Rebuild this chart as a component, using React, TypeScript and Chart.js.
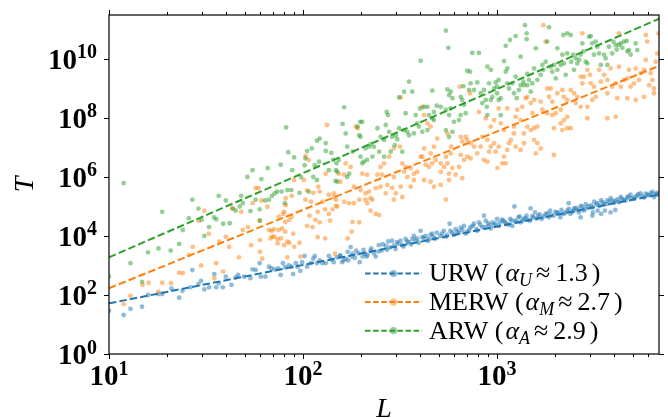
import React, { useEffect, useRef } from "react";
import { Chart, registerables } from "chart.js";

Chart.register(...registerables);

// ---------- axis ranges ----------
const xMin = 10;
const xMax = 6840;
const yMin = 1;
const yMax = 3.1e11;

// ---------- tick labels ----------
const xTickValues = [10, 100, 1000];
const xTickExps = ["1", "2", "3"];
const yTickValues = [1, 1e2, 1e4, 1e6, 1e8, 1e10];
const yTickExps = ["0", "2", "4", "6", "8", "10"];

// ---------- legend ----------
const seriesNames = ["URW", "MERW", "ARW"];
const seriesSubs = ["U", "M", "A"];
const seriesAlphas = ["1.3", "2.7", "2.9"];

// ---------- fitted power-law lines (end points) ----------
const fitL = [10, 6840];
const urwFit = [52, 2.55e5];
const merwFit = [170, 5.8e9];
const arwFit = [1.9e3, 2.3e11];

// ---------- URW scatter [L, T] ----------
const urwPoints: number[][] = [
  [10, 29], [11.9, 21], [12.9, 34], [14.8, 40], [15.9, 100], [17.9, 108], [18.8, 108], [21, 163], [23, 81], [23.9, 137],
  [26.9, 700], [26.3, 182], [28.9, 235], [29.8, 302], [31, 155], [32.8, 182], [34.9, 513], [35.7, 182], [36.8, 251], [38.6, 182],
  [40, 417], [42.8, 219], [46.3, 479], [45, 398], [49.6, 417], [53.6, 372], [54.9, 741], [57, 708], [59.8, 1200], [60.6, 417],
  [64, 417], [66.8, 912], [68.8, 794], [71.5, 741], [74.6, 794], [76.7, 479], [78.8, 1200], [81, 871], [84.6, 1000], [87.5, 912],
  [88.9, 513], [91.8, 1200], [93.6, 912], [96.8, 661], [99, 1300], [102, 2100], [105, 912], [110, 1200], [113, 1700], [115, 2100],
  [118, 1200], [122, 1500], [126, 1200], [131, 1200], [136, 2100], [140, 1600], [144, 1300], [150, 1900], [156, 2100], [159, 1300],
  [166, 1700], [171, 1500], [176, 4200], [180, 2500], [188, 3200], [193, 2600], [196, 1300], [203, 2000], [208, 2500], [213, 2000],
  [223, 3200], [232, 2600], [237, 2000], [246, 4900], [254, 3200], [267, 4600], [275, 6500], [271, 3400],
  [288, 6900], [294, 4700], [305, 6200], [318, 6900], [325, 4900], [338, 7900], [351, 6200], [366, 7900], [373, 1e4], [388, 8300],
  [404, 1.5e4], [412, 9100], [429, 1e4], [445, 7900], [463, 1.2e4], [472, 9100], [490, 1.3e4], [510, 1e4], [532, 1.5e4], [553, 1.1e4],
  [570, 2.6e4], [588, 1.3e4], [612, 1.7e4], [637, 1.3e4], [663, 1.6e4], [676, 2.2e4], [702, 1.4e4], [731, 2e4], [760, 2.6e4], [785, 1.7e4],
  [807, 2.9e4], [840, 2e4], [857, 4.9e4], [874, 3.3e4], [910, 2.3e4], [948, 2.9e4], [985, 2.6e4], [1000, 3.8e4], [1040, 2.9e4], [1080, 3.3e4],
  [1120, 2.6e4], [1170, 3.8e4], [1200, 2.2e4], [1240, 3.3e4], [1290, 4.3e4], [1320, 2.9e4], [1370, 3.8e4], [1420, 4.9e4], [1480, 3.3e4], [1540, 4.3e4],
  [1570, 6.3e4], [1630, 4.9e4], [1700, 3.8e4], [1780, 5.6e4], [1850, 4.3e4], [1880, 7.2e4], [1960, 4.9e4], [2040, 6.3e4], [2120, 4.3e4], [2200, 5.6e4],
  [2300, 7.2e4], [2390, 5.6e4], [2490, 7.2e4], [2700, 4.3e4], [2640, 6.3e4], [2800, 7.2e4],
  [1230, 1e5], [1490, 8.7e4], [2340, 1.3e5], [2494, 8.7e4], [2700, 1.05e5], [2870, 1.2e5], [3050, 1.1e5], [3170, 1.45e5], [3300, 1.3e5], [3440, 1.65e5],
  [3560, 1.2e5], [3700, 1.6e5], [3850, 1.9e5], [4000, 1.35e5], [4170, 1.75e5], [4340, 2.1e5], [4510, 1.65e5], [4690, 2e5], [4880, 2.5e5], [5080, 1.8e5],
  [5290, 2.3e5], [5500, 2.8e5], [5730, 2e5], [5960, 2.5e5], [6200, 2.9e5], [6450, 2.1e5], [6700, 2.9e5], [6800, 2.5e5],
  [3100, 4.9e4], [3120, 6.3e4], [3300, 7.2e4], [3440, 5.6e4], [3600, 7.2e4], [3850, 6.3e4], [4070, 7.6e4],
  [155, 2200], [162, 1500], [170, 2900], [178, 2000], [185, 1800], [205, 3400], [215, 2300], [225, 3800], [245, 3000], [258, 5300],
  [280, 4100], [300, 3600], [310, 5500], [330, 4400], [345, 6600], [360, 5200], [380, 7100], [395, 5900], [420, 8600], [440, 6800],
  [455, 1.1e4], [480, 8000], [520, 1.2e4], [545, 9400], [575, 1.5e4], [600, 1.1e4], [625, 1.4e4], [650, 1.9e4], [690, 1.2e4], [720, 1.6e4],
  [750, 2.2e4], [790, 1.5e4], [820, 2.4e4], [870, 2e4], [900, 2.7e4], [930, 1.8e4], [960, 2.4e4], [1020, 2.2e4], [1060, 3.6e4], [1100, 2.9e4],
  [1150, 2.4e4], [1190, 3.3e4], [1260, 3e4], [1310, 4.6e4], [1350, 3.2e4], [1400, 4e4], [1450, 3.5e4], [1520, 4.7e4], [1600, 3.9e4], [1660, 5.4e4],
  [1740, 4.6e4], [1820, 6e4], [1900, 5.2e4], [2000, 6.6e4], [2080, 5.8e4], [2150, 7.6e4], [2250, 6.1e4], [2350, 8.3e4], [2450, 6.6e4], [2560, 9e4],
  [2620, 7.8e4], [2750, 9.6e4], [2850, 8.4e4], [2950, 1e5], [3100, 9.3e4], [3250, 1.15e5], [3380, 1.05e5], [3500, 1.4e5], [3650, 1.2e5], [3800, 1.45e5],
  [3950, 1.6e5], [4100, 1.5e5], [4250, 1.4e5], [4400, 1.85e5], [4600, 1.6e5], [4750, 2.2e5], [4950, 1.9e5], [5150, 2.1e5], [5350, 2.6e5], [5600, 2.2e5],
  [5850, 2.7e5], [6100, 2.4e5], [6350, 3.1e5], [6600, 2.6e5],
];

// ---------- MERW scatter [L, T] ----------
const merwPoints: number[][] = [
  [133, 5.8e7], [103, 5.1e6], [107, 3.8e6], [101, 7.9e5], [105, 3.5e5], [103, 1.7e5], [113, 2.9e5], [110, 1.45e5], [120, 4.7e5], [122, 3.2e5],
  [131, 1.3e6], [136, 2.5e5], [144, 2.8e5], [148, 1.05e5], [150, 1e5], [142, 8e4], [136, 5.6e4], [130, 8e4], [126, 1.45e5], [119, 6.6e4],
  [116, 3.5e4], [122, 2.9e4], [112, 2e4], [105, 2.2e4], [119, 9.1e3], [90, 7.9e5], [87.5, 2.3e5], [81.5, 1.9e5], [81.5, 1.1e5], [80, 6.6e4],
  [79, 5.6e4], [75, 4.5e4], [87.5, 4.5e4], [85, 3.5e4], [81, 3e4], [78, 1.8e4], [75, 1.6e4], [71, 1.7e4], [67, 1.6e4], [69.5, 9.5e3],
  [74, 7.8e3], [85, 5.9e3], [80, 4.9e3], [90, 4.3e3], [57, 4.2e5], [59, 4.2e5], [61, 1.6e5], [65.5, 9.8e4], [55, 1.3e5], [48, 6.6e4],
  [43, 8.7e4], [52, 2e4], [49, 1.6e4], [60, 7.3e3], [54, 4.9e3], [40, 9.5e3], [37, 6.4e3], [31, 7.2e4], [29, 3.3e4], [27, 4.3e3],
  [41.6, 4.3e3], [32.7, 1.2e4], [25.8, 2.3e3], [60, 2.9e3], [61.7, 1.7e3], [46.8, 1.9e3], [35.7, 1.2e3], [29.8, 1e3], [38.8, 620], [34.9, 370],
  [23, 570], [24, 550], [18.8, 260], [20.9, 250], [16, 260], [14.9, 220], [12.9, 95], [11.9, 49], [18, 130], [68, 8.3e3],
  [71, 9.5e3], [74, 5.6e3], [77, 8.3e3], [69, 1.5e4], [83, 6.4e3], [96, 5.9e3], [83, 1.9e3], [97, 2e3], [146, 2.5e3], [170, 8.3e3],
  [178, 1.4e4], [60, 3.3e4], [81, 1.4e4], [89, 1.2e4], [108, 4.9e4], [130, 8.3e3], [138, 3.3e4],
  [145, 2.1e5], [153, 1.3e6], [163, 1.2e6], [166, 2.9e6], [176, 2.2e6], [187, 5.1e7], [191, 4.5e7], [183, 4.7e5], [198, 3.6e5], [210, 2.8e5],
  [214, 1.2e6], [202, 1.3e6], [219, 3.2e5], [210, 1.7e5], [223, 1.9e5], [228, 1.7e5], [214, 1.3e5], [195, 1.7e5], [183, 1.3e5], [173, 1.3e5],
  [163, 1.45e5], [156, 6.9e5], [148, 1.7e5], [242, 1.2e6], [251, 2.2e6], [262, 2.9e6], [278, 4.9e6], [294, 9.3e6], [316, 1.07e7], [319, 5e8],
  [288, 4.2e5], [301, 2.8e5], [294, 1.7e5], [267, 2.8e5], [251, 4.7e5], [237, 4.2e5], [325, 2.9e6], [332, 1.5e6], [338, 2.2e6], [345, 1e6],
  [359, 2e6], [373, 1.3e6], [325, 2.1e5], [359, 4.7e5], [319, 4.7e5], [294, 1e6], [272, 5.4e5], [256, 1.2e6], [545, 1.7e5], [373, 7.9e5],
  [388, 1.5e6], [404, 4.9e6], [412, 4.9e6], [421, 9.3e6], [429, 2.6e6], [446, 2.2e6], [464, 2.9e6], [483, 3.8e6], [412, 2.4e8], [421, 1.26e8],
  [438, 6.6e7], [455, 5.1e7], [492, 2e7], [421, 7.9e5], [455, 6.9e5], [473, 4.7e5], [513, 1.5e6], [513, 2.9e6], [533, 2.2e6], [555, 2.9e6],
  [566, 1.3e6], [589, 2e6], [513, 5.4e5], [545, 4.9e6], [473, 1.07e7], [455, 6.3e6], [577, 6.3e6], [644, 1.15e9], [726, 6.9e8], [650, 2.3e7],
  [662, 1.6e7], [690, 2.3e7], [703, 1.8e7], [731, 1.4e7], [761, 1.07e7], [650, 5.6e6], [676, 3.8e6], [703, 4.9e6], [731, 4.3e6], [791, 6.3e6],
  [824, 1.07e7], [566, 7.9e5], [637, 2.2e6], [612, 1.2e6], [662, 9.1e5], [555, 3e7], [581, 1.07e7], [857, 3.8e6], [892, 3.3e6], [910, 7.2e6],
  [929, 1.07e7], [966, 1.4e7], [1020, 1.07e7], [985, 7.2e6], [1005, 2e6], [1065, 2.9e6], [1109, 2.9e6], [1087, 4.9e6], [1130, 8.3e6], [1153, 1.4e7],
  [1178, 1.8e7], [1224, 3e7], [1224, 5.1e7], [1248, 1.1e8], [1130, 2.1e8], [1020, 2.1e8], [807, 1.6e8], [875, 9.8e7], [929, 5.1e7], [966, 8.5e7],
  [1045, 6.6e7], [1087, 3.9e7], [892, 1.8e7], [840, 2.3e7], [1271, 1.9e8], [1324, 8.5e7], [1349, 2.4e8], [1406, 4.7e8], [1432, 5.2e8], [1493, 3.2e8],
  [1521, 1.45e8], [1552, 4.1e8], [1432, 5.1e7], [1377, 3e7], [1493, 3.9e7], [1552, 4.5e7], [1615, 5.1e7], [1552, 1.8e7], [1615, 1.4e7], [1680, 9.3e6],
  [1585, 6.3e6], [1377, 1.4e7], [1324, 8.3e6], [1248, 1.07e7], [1734, 1.4e11], [1782, 3.9e10], [1816, 1e9], [1892, 1e9], [1853, 5.2e8], [1928, 3.6e8],
  [1680, 3.6e8], [1714, 1.9e8], [1816, 1.45e8], [1928, 1.26e8], [2009, 1.45e8], [2130, 1.9e8], [1967, 4.5e7], [2130, 6.6e7], [2213, 8.5e7], [2301, 1.1e8],
  [2301, 4.1e8], [2213, 5.2e8], [2047, 6.9e8], [2172, 8.9e8], [1967, 5.6e6], [2172, 3.9e7], [2399, 8.9e8], [2494, 6.9e8], [2594, 5.2e8], [2754, 1.5e9],
  [2700, 2.5e9], [2805, 2.5e9], [2924, 4.3e9], [3015, 2.9e9], [3041, 1.5e9], [3162, 1.15e9], [2545, 3.2e8], [2700, 2.4e8], [2924, 2.4e8], [3097, 4.1e8],
  [3228, 5.2e8], [2754, 7.4e10], [2924, 9.8e7], [2399, 4.5e7], [2301, 4.5e7], [3357, 4.3e9], [3427, 1.7e9], [3565, 2.9e9], [3707, 1.95e9], [3855, 4.8e9],
  [3927, 1.15e9], [4093, 1.5e9], [4256, 5.5e9], [4345, 1.15e9], [4519, 1.95e9], [4699, 2.2e9], [4786, 4.3e9], [4887, 1.15e9], [5082, 1.5e9], [5188, 4.8e9],
  [5395, 1.95e9], [5508, 3.3e9], [5728, 4.3e9], [5848, 9.3e9], [6083, 1.3e9], [6200, 3.3e9], [6324, 1.95e9], [6442, 1e9], [6577, 8.1e9], [6700, 1.55e10],
  [6800, 7.4e10], [5943, 3.9e10], [5848, 6.5e10], [4256, 7.4e10], [3707, 6.9e8], [4169, 4.7e8], [4699, 4.7e8], [5188, 4.1e8], [5728, 5.2e8], [6442, 6.9e8],
  [4093, 1.1e8], [3707, 9.8e7], [180, 3e4], [195, 2.9e4], [237, 5.6e4], [247, 5.1e4], [223, 7.2e4],
];

// ---------- ARW scatter [L, T] ----------
const arwPoints: number[][] = [
  [11.9, 6.2e5], [18.8, 6.6e4], [18, 3.8e3], [20.8, 3.2e3], [23, 5.4e3], [24, 1.6e4], [25.8, 4e4], [26.9, 1.7e5], [28.9, 8.5e4], [30, 3.5e4],
  [31, 1e4], [32.8, 2e4], [34.8, 4.3e4], [35.7, 3.7e4], [36.8, 2.3e5], [38.8, 2.6e4], [40, 1.6e5], [41.9, 2.7e4], [43.6, 8.5e4], [45, 7.2e4],
  [47.2, 1e5], [48, 2.3e5], [49, 1.3e5], [51.7, 1e6], [53.6, 7e4], [54.9, 1.7e6], [57, 1.7e5], [59.8, 8e4], [59.8, 3.3e4], [61, 8.5e5],
  [63.8, 1.6e5], [65.8, 2e6], [66.8, 1.7e5], [69.2, 2.3e5], [71.5, 2.8e5], [73.6, 3.2e5], [76.7, 2.6e6], [77.6, 3.2e5], [80.6, 1.3e5], [81.8, 4.8e7],
  [83, 3.6e5], [84, 6.9e6], [87, 3.6e5], [88, 1.7e6], [90, 4.6e6], [96, 2.9e5], [97.6, 1e6], [102, 2.5e6], [103, 4.3e6], [105, 7.6e6],
  [107, 3.2e5], [111, 9.3e6], [113, 1e6], [115, 2.5e6], [118, 7.9e5], [118, 1.7e7], [122, 2e7], [121, 3.3e6], [131, 1.4e7], [131, 7.6e6],
  [136, 1.7e6], [140, 6.6e6], [143, 3.8e6], [147, 7.4e5], [149, 2.9e6], [150, 1.5e6], [10, 4.2e2], [12.9, 1.2e3], [14.8, 2.8e2], [15.9, 2.8e3],
  [148, 1.7e6], [150, 6.9e5], [163, 2.3e8], [160, 6.3e7], [166, 3e7], [153, 3.8e6], [169, 1.07e7], [180, 7.2e6], [173, 1.3e6], [169, 1e6],
  [191, 5.1e7], [197, 7.4e7], [202, 7.4e7], [195, 2.6e7], [198, 2.3e7], [210, 9.3e6], [219, 1.07e7], [223, 1.3e7], [198, 4.9e6], [206, 3.3e6],
  [214, 3.8e6], [202, 2.9e6], [228, 4.9e6], [242, 4.5e7], [251, 2.3e7], [267, 5.8e7], [270, 1.6e8], [274, 1.26e8], [262, 1.8e7], [278, 3.4e7],
  [288, 2.3e7], [297, 1.2e7], [306, 1.9e7], [313, 4.5e7], [313, 5e8], [332, 7.8e8], [338, 1.45e8], [352, 1.7e9], [366, 7.8e8], [325, 7.2e6],
  [262, 4.9e6], [283, 7.2e6], [247, 7.2e6], [232, 1.07e7], [301, 2.6e7], [332, 3.9e7], [345, 3.4e7], [352, 2.6e7], [373, 3e7], [388, 6.6e7],
  [381, 1.26e8], [401, 2.1e8], [421, 2.4e8], [438, 2.4e8], [446, 1.26e8], [464, 8.5e8], [412, 3.4e7], [438, 3.9e7], [396, 5.1e7], [473, 1.6e8],
  [473, 8.5e7], [464, 9.8e7], [404, 8.7e9], [545, 9.1e10], [561, 2.4e10], [489, 2.6e8], [513, 2.4e8], [545, 1.9e8], [566, 1.26e8], [577, 2.1e8],
  [555, 9.3e8], [566, 6e8], [589, 4.7e8], [577, 7.8e8], [566, 2.3e7], [589, 3.4e7], [545, 3.9e7], [650, 5.2e8], [670, 1.2e9], [662, 4.1e8],
  [676, 2.8e8], [650, 1.26e8], [690, 1.45e8], [637, 8.5e7], [600, 7.4e7], [703, 4e9], [726, 3.7e9], [746, 1.6e10], [807, 1.6e10], [718, 8.9e8],
  [791, 1.6e9], [731, 1.5e9], [761, 8.9e8], [824, 6.9e8], [857, 8.9e8], [875, 4.1e8], [910, 1.5e9], [892, 5.5e9], [929, 4.3e9], [985, 1.6e9],
  [966, 1e9], [1000, 6.9e8], [1020, 4.1e8], [1045, 4.7e8], [840, 3.2e8], [885, 2.4e8], [929, 4.1e8], [946, 5.2e8], [892, 1.26e8], [1000, 1.15e9],
  [1020, 1.95e9], [1087, 8.5e9], [1109, 3.7e9], [1130, 4.8e9], [1045, 1.26e8], [1109, 2.8e10], [1167, 4.4e10], [1248, 6e10], [1130, 1.5e9], [1153, 1e9],
  [1199, 1.5e9], [1224, 6.9e8], [1264, 4.7e8], [1248, 2.5e9], [1324, 1.2e10], [1324, 1.3e9], [1297, 8.9e8], [1367, 1.7e9], [1394, 1.4e11], [1422, 7.4e10],
  [1422, 4.7e10], [1377, 1.3e9], [1432, 1.3e9], [1462, 1.95e9], [1493, 7.8e8], [1552, 4.8e9], [1521, 1.5e9], [1432, 3.1e9], [1585, 2.3e10], [1615, 1.95e9],
  [1680, 2.9e9], [1714, 6.3e9], [1734, 4.3e9], [1782, 8.1e9], [1816, 3.9e10], [1853, 1.2e11], [1892, 5.5e9], [1928, 3.7e9], [1967, 6.3e9], [2009, 2.2e9],
  [2047, 4.3e9], [2047, 2.3e10], [2130, 6.3e9], [2172, 1.4e10], [2213, 7.1e9], [2260, 2.9e9], [2301, 7.4e10], [2301, 1.55e10], [2198, 6.5e10], [2399, 6.5e10],
  [2415, 8.1e9], [2473, 1.4e10], [2494, 4.3e9], [2545, 1.05e10], [2594, 7.1e9], [2647, 9.3e9], [2700, 1.4e10], [2754, 3.4e10], [2786, 1.8e10], [2866, 8.1e9],
  [2924, 7.1e9], [2980, 5.7e10], [3041, 6e10], [3097, 3.4e10], [3228, 3.9e10], [3162, 1.4e10], [3289, 2.6e10], [3357, 1.55e10], [3427, 6.3e9], [3565, 1.4e10],
  [3632, 1.05e10], [3707, 6.3e9], [3776, 2.6e10], [3927, 1.55e10], [3981, 3.9e10], [4093, 3e10], [4140, 2.1e10], [4256, 3e10], [4345, 3.4e10], [4426, 2.4e10],
  [4519, 3.9e10], [4667, 4.1e10], [4699, 1.8e10], [4786, 2e10], [4887, 1.4e10], [5188, 3.4e10], [5284, 2e10],
];

const BLUE = "31,119,180";
const ORANGE = "255,127,14";
const GREEN = "44,160,44";
const FONT = '"Liberation Serif", "Times New Roman", serif';

function toXY(arr: number[][]) {
  return arr.map((p) => ({ x: p[0], y: p[1] }));
}

const decorPlugin = {
  id: "decor",
  afterDraw(chart: any) {
    const { ctx, chartArea: a, scales } = chart;
    const xs = scales.x;
    const ys = scales.y;
    ctx.save();
    ctx.strokeStyle = "#000";
    ctx.fillStyle = "#000";

    // spines
    ctx.lineWidth = 1.2;
    ctx.strokeRect(a.left, a.top, a.right - a.left, a.bottom - a.top);

    // ticks
    ctx.lineWidth = 1;
    ctx.beginPath();
    const majorLen = 5;
    const minorLen = 3;
    for (let d = 10; d <= xMax; d *= 10) {
      for (let m = 1; m <= 9; m++) {
        const v = d * m;
        if (v < xMin || v > xMax) continue;
        const px = Math.round(xs.getPixelForValue(v)) + 0.5;
        const len = m === 1 ? majorLen : minorLen;
        ctx.moveTo(px, a.bottom);
        ctx.lineTo(px, a.bottom + len);
        ctx.moveTo(px, a.top);
        ctx.lineTo(px, a.top - len);
      }
    }
    yTickValues.forEach((v) => {
      const py = Math.round(ys.getPixelForValue(v)) + 0.5;
      ctx.moveTo(a.left, py);
      ctx.lineTo(a.left - majorLen, py);
      ctx.moveTo(a.right, py);
      ctx.lineTo(a.right + majorLen, py);
    });
    ctx.stroke();

    // tick labels with superscripts
    const mainFont = `bold 29px ${FONT}`;
    const supFont = `bold 20px ${FONT}`;
    ctx.textBaseline = "alphabetic";
    ctx.textAlign = "left";
    const drawPow = (exp: string, left: number, base: number) => {
      ctx.font = mainFont;
      const w1 = ctx.measureText("10").width;
      ctx.fillText("10", left, base);
      ctx.font = supFont;
      ctx.fillText(exp, left + w1, base - 10.5);
    };
    const powWidth = (exp: string) => {
      ctx.font = mainFont;
      const w1 = ctx.measureText("10").width;
      ctx.font = supFont;
      return w1 + ctx.measureText(exp).width;
    };
    yTickValues.forEach((v, i) => {
      const py = ys.getPixelForValue(v);
      const w = powWidth(yTickExps[i]);
      drawPow(yTickExps[i], a.left - 12 - w, py + 10);
    });
    xTickValues.forEach((v, i) => {
      const px = xs.getPixelForValue(v);
      const w = powWidth(xTickExps[i]);
      drawPow(xTickExps[i], px - w / 2, a.bottom + 31);
    });

    // axis titles
    ctx.font = `italic 28px ${FONT}`;
    ctx.textAlign = "center";
    ctx.fillText("L", (a.left + a.right) / 2, 417);
    ctx.save();
    ctx.translate(33, (a.top + a.bottom) / 2);
    ctx.rotate(-Math.PI / 2);
    ctx.fillText("T", 0, 0);
    ctx.restore();

    // legend
    const colors = [BLUE, ORANGE, GREEN];
    const fs = 26;
    const subFs = 18;
    for (let i = 0; i < 3; i++) {
      const hy = 273.5 + i * 28.6;
      const base = hy + 7.8;
      const col = colors[i];
      ctx.save();
      ctx.strokeStyle = `rgb(${col})`;
      ctx.lineWidth = 2;
      ctx.setLineDash([5.5, 2.6]);
      ctx.beginPath();
      ctx.moveTo(365, hy);
      ctx.lineTo(422, hy);
      ctx.stroke();
      ctx.setLineDash([]);
      ctx.fillStyle = `rgba(${col},0.5)`;
      ctx.beginPath();
      ctx.arc(393.5, hy, 3.6, 0, Math.PI * 2);
      ctx.fill();
      ctx.restore();

      let x = 429;
      ctx.textAlign = "left";
      ctx.font = `${fs}px ${FONT}`;
      const t1 = seriesNames[i] + " (";
      ctx.fillText(t1, x, base);
      x += ctx.measureText(t1).width + 2;
      ctx.font = `italic ${fs}px ${FONT}`;
      ctx.fillText("α", x, base);
      x += ctx.measureText("α").width;
      ctx.font = `italic ${subFs}px ${FONT}`;
      ctx.fillText(seriesSubs[i], x, base + 5);
      x += ctx.measureText(seriesSubs[i]).width + 4;
      ctx.font = `${fs}px ${FONT}`;
      ctx.fillText("≈", x, base);
      x += ctx.measureText("≈").width + 5;
      ctx.fillText(seriesAlphas[i], x, base);
      x += ctx.measureText(seriesAlphas[i]).width + 4;
      ctx.fillText(")", x, base);
    }
    ctx.restore();
  },
};

export default function App() {
  const ref = useRef<HTMLCanvasElement | null>(null);
  useEffect(() => {
    if (!ref.current) return;
    const scatterDs = (pts: number[][], col: string, order: number) => ({
      type: "scatter" as const,
      data: toXY(pts),
      showLine: false,
      pointRadius: 2.4,
      pointBorderWidth: 0,
      pointBackgroundColor: `rgba(${col},0.5)`,
      backgroundColor: `rgba(${col},0.5)`,
      borderColor: `rgba(${col},0)`,
      order,
    });
    const lineDs = (vals: number[], col: string, order: number) => ({
      type: "line" as const,
      data: fitL.map((l, i) => ({ x: l, y: vals[i] })),
      borderColor: `rgb(${col})`,
      borderWidth: 2,
      borderDash: [7.4, 3.2],
      pointRadius: 0,
      fill: false,
      tension: 0,
      order,
    });
    const chart = new Chart(ref.current, {
      type: "scatter",
      data: {
        datasets: [
          scatterDs(urwPoints, BLUE, 6),
          lineDs(urwFit, BLUE, 5),
          scatterDs(merwPoints, ORANGE, 4),
          lineDs(merwFit, ORANGE, 3),
          scatterDs(arwPoints, GREEN, 2),
          lineDs(arwFit, GREEN, 1),
        ] as any,
      },
      options: {
        animation: false,
        responsive: false,
        devicePixelRatio: 1,
        events: [],
        layout: { padding: { left: 109, right: 9, top: 15, bottom: 64 } },
        plugins: { legend: { display: false }, tooltip: { enabled: false }, title: { display: false } },
        scales: {
          x: { type: "logarithmic", min: xMin, max: xMax, display: false },
          y: { type: "logarithmic", min: yMin, max: yMax, display: false },
        },
      },
      plugins: [decorPlugin],
    });
    return () => chart.destroy();
  }, []);
  return (
    <div style={{ position: "absolute", left: 0, top: 0, width: 668, height: 418, background: "#fff" }}>
      <canvas ref={ref} width={668} height={418} style={{ width: 668, height: 418, display: "block" }} />
    </div>
  );
}
